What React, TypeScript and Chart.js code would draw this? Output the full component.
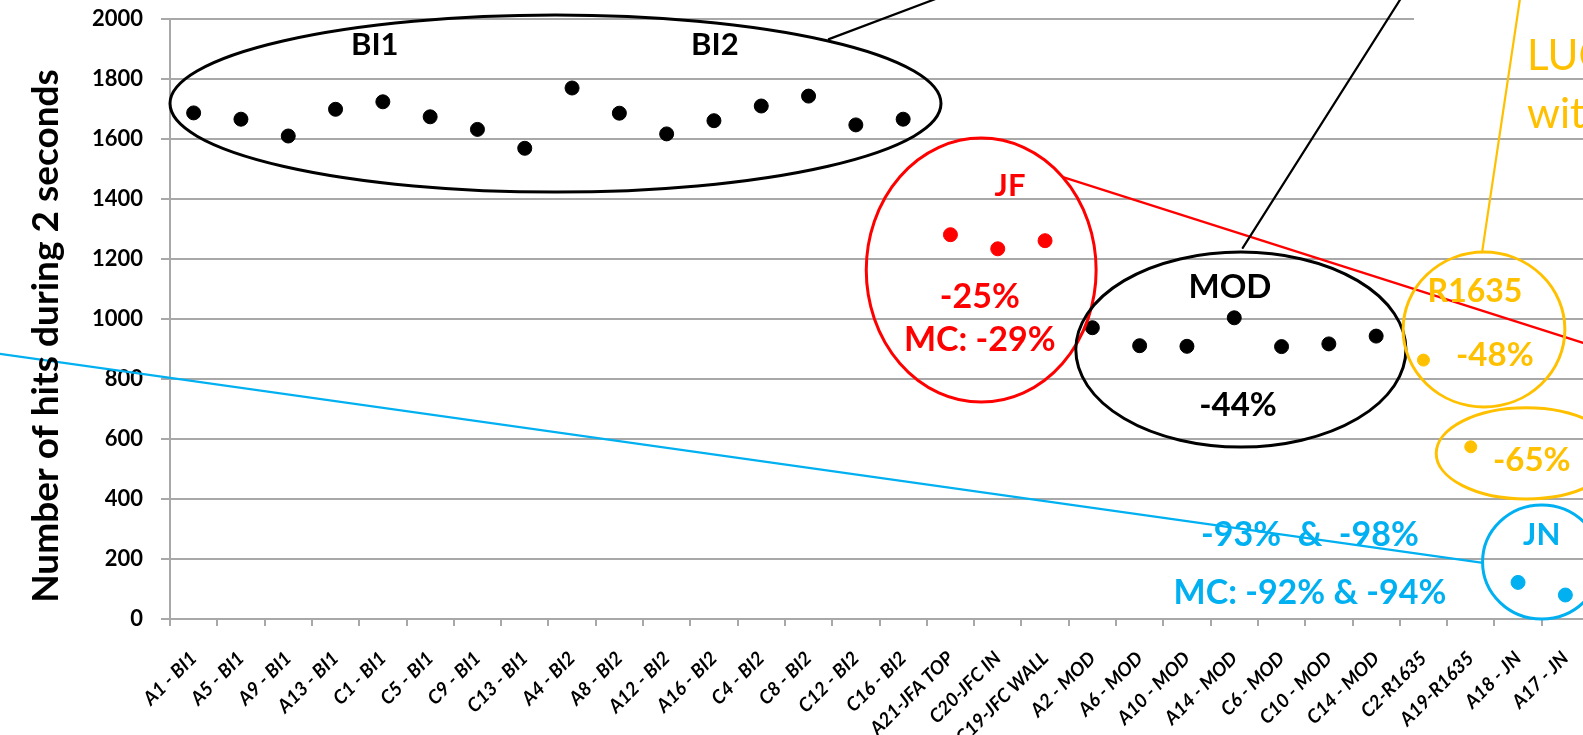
import React, { useEffect, useRef } from "react";
import { Chart, registerables } from "chart.js";

Chart.register(...registerables);

// ---- data ----
const categories = [
  "A1 - BI1", "A5 - BI1", "A9 - BI1", "A13 - BI1", "C1 - BI1", "C5 - BI1", "C9 - BI1", "C13 - BI1",
  "A4 - BI2", "A8 - BI2", "A12 - BI2", "A16 - BI2", "C4 - BI2", "C8 - BI2", "C12 - BI2", "C16 - BI2",
  "A21-JFA TOP", "C20-JFC IN", "C19-JFC WALL",
  "A2 - MOD", "A6 - MOD", "A10 - MOD", "A14 - MOD", "C6 - MOD", "C10 - MOD", "C14 - MOD",
  "C2-R1635", "A19-R1635",
  "A18 - JN", "A17 - JN",
];

const biCategories = categories.slice(0, 16);
const biValues = [1687, 1666, 1610, 1699, 1724, 1674, 1632, 1569, 1770, 1686, 1617, 1661, 1710, 1743, 1647, 1666];

const jfCategories = categories.slice(16, 19);
const jfValues = [1281, 1234, 1261];

const modCategories = categories.slice(19, 26);
const modValues = [971, 911, 909, 1004, 908, 917, 943];

const r1635Categories = categories.slice(26, 28);
const r1635Values = [863, 574];

const jnCategories = categories.slice(28, 30);
const jnValues = [122, 80];

const yMin = 0;
const yMax = 2000;
const yStep = 200;
const yTitle = "Number of hits during 2 seconds";

// ---- annotation layout (category index / value coordinates) ----
const BLACK = "#000000";
const RED = "#FF0000";
const GOLD = "#FFC000";
const BLUE = "#00B0F0";
const GRID = "#A8A8A8";

const ellipses = [
  { i: 7.65, v: 1718, rx: 8.15, ry: 295, color: BLACK },
  { i: 16.65, v: 1163, rx: 2.43, ry: 440, color: RED },
  { i: 22.14, v: 898, rx: 3.49, ry: 325, color: BLACK },
  { i: 27.28, v: 965, rx: 1.71, ry: 258, color: GOLD },
  { i: 28.17, v: 552, rx: 1.9, ry: 152, color: GOLD },
  { i: 28.5, v: 190, rx: 1.25, ry: 190, color: BLUE },
];

const connectors = [
  { i1: 13.43, v1: 1933, i2: 16.75, v2: 2130, color: BLACK },
  { i1: 18.38, v1: 1473, i2: 30.16, v2: 881, color: RED },
  { i1: 22.18, v1: 1237, i2: 25.77, v2: 2130, color: BLACK },
  { i1: 27.24, v1: 1223, i2: 28.1, v2: 2130, color: GOLD },
  { i1: 27.26, v1: 187, i2: -4.52, v2: 893, color: BLUE },
];

const notes = [
  { text: "BI1", i: 3.83, v: 1913, color: BLACK, size: 31 },
  { text: "BI2", i: 11.02, v: 1913, color: BLACK, size: 31 },
  { text: "JF", i: 17.26, v: 1443, color: RED, size: 31 },
  { text: "-25%", i: 16.62, v: 1073, color: RED, size: 34 },
  { text: "MC: -29%", i: 16.62, v: 930, color: RED, size: 34 },
  { text: "MOD", i: 21.91, v: 1107, color: BLACK, size: 33 },
  { text: "-44%", i: 22.08, v: 713, color: BLACK, size: 33 },
  { text: "R1635", i: 27.09, v: 1090, color: GOLD, size: 32 },
  { text: "-48%", i: 27.51, v: 880, color: GOLD, size: 33 },
  { text: "-65%", i: 28.29, v: 530, color: GOLD, size: 33 },
  { text: "JN", i: 28.5, v: 280, color: BLUE, size: 31 },
  { text: "-93%  &  -98%", i: 23.6, v: 280, color: BLUE, size: 34 },
  { text: "MC: -92% & -94%", i: 23.6, v: 87, color: BLUE, size: 34 },
];

const sideNotes = [
  { text: "LUC", i: 28.19, v: 1830, color: GOLD, size: 42 },
  { text: "wit", i: 28.19, v: 1637, color: GOLD, size: 42 },
];

const FONT = "Lato";

const annotationPlugin = {
  id: "annotations",
  beforeDatasetsDraw(chart: any) {
    const { ctx, scales } = chart;
    const x = scales.x;
    const y = scales.y;
    // white text-box background that hides the top gridline on the right
    const left = x.getPixelForValue(25.8);
    const top = y.getPixelForValue(2030);
    const bottom = y.getPixelForValue(1975);
    ctx.save();
    ctx.fillStyle = "#FFFFFF";
    ctx.fillRect(left, top, chart.width - left, bottom - top);
    ctx.restore();
  },
  afterDraw(chart: any) {
    const { ctx, scales } = chart;
    const x = scales.x;
    const y = scales.y;
    const px = (i: number) => x.getPixelForValue(i);
    const py = (v: number) => y.getPixelForValue(v);
    const ux = px(1) - px(0);
    const uy = py(0) - py(1);
    ctx.save();
    ctx.lineCap = "round";
    connectors.forEach((c) => {
      ctx.beginPath();
      ctx.strokeStyle = c.color;
      ctx.lineWidth = 2.2;
      ctx.moveTo(px(c.i1), py(c.v1));
      ctx.lineTo(px(c.i2), py(c.v2));
      ctx.stroke();
    });
    ellipses.forEach((e) => {
      ctx.beginPath();
      ctx.strokeStyle = e.color;
      ctx.lineWidth = 3;
      ctx.ellipse(px(e.i), py(e.v), e.rx * ux, e.ry * uy, 0, 0, Math.PI * 2);
      ctx.stroke();
    });
    notes.forEach((n) => {
      ctx.fillStyle = n.color;
      ctx.font = `bold ${n.size}px ${FONT}`;
      ctx.textAlign = "center";
      ctx.textBaseline = "middle";
      ctx.fillText(n.text, px(n.i), py(n.v));
    });
    sideNotes.forEach((n) => {
      ctx.fillStyle = n.color;
      ctx.font = `normal ${n.size}px ${FONT}`;
      ctx.textAlign = "left";
      ctx.textBaseline = "alphabetic";
      ctx.fillText(n.text, px(n.i), py(n.v));
    });
    // y-axis title
    ctx.fillStyle = BLACK;
    ctx.font = `bold 37px ${FONT}`;
    ctx.textAlign = "center";
    ctx.textBaseline = "middle";
    ctx.translate(x.left - 124, (y.top + y.bottom) / 2 + 17);
    ctx.rotate(-Math.PI / 2);
    ctx.fillText(yTitle, 0, 0);
    ctx.restore();
  },
};

const pointDataset = (cats: string[], vals: number[], color: string, radius: number) => ({
  data: cats.map((c, k) => ({ x: c, y: vals[k] })),
  showLine: false,
  pointRadius: radius,
  pointHoverRadius: radius,
  pointBorderWidth: 1,
  pointBackgroundColor: color,
  pointBorderColor: color,
  borderColor: color,
  backgroundColor: color,
});

export default function App() {
  const ref = useRef<HTMLCanvasElement>(null);
  useEffect(() => {
    const chart = new Chart(ref.current as HTMLCanvasElement, {
      type: "line",
      data: {
        labels: categories,
        datasets: [
          pointDataset(biCategories, biValues, BLACK, 7),
          pointDataset(jfCategories, jfValues, RED, 7),
          pointDataset(modCategories, modValues, BLACK, 7),
          pointDataset(r1635Categories, r1635Values, GOLD, 6),
          pointDataset(jnCategories, jnValues, BLUE, 7),
        ] as any,
      },
      options: {
        responsive: false,
        animation: false,
        devicePixelRatio: 1,
        layout: { padding: { top: 19, right: 11, left: 0, bottom: 0 } },
        plugins: { legend: { display: false }, tooltip: { enabled: false } },
        scales: {
          x: {
            type: "category",
            offset: true,
            grid: {
              display: true,
              drawOnChartArea: false,
              drawTicks: true,
              tickLength: 7,
              color: GRID,
              lineWidth: 2,
              offset: true,
            },
            border: { display: true, color: GRID, width: 2 },
            ticks: {
              autoSkip: false,
              maxRotation: 45,
              minRotation: 45,
              color: BLACK,
              padding: 21,
              font: { family: FONT, size: 19, weight: "bold", style: "italic" },
            },
            afterFit: (s: any) => {
              s.height = 116;
              s.paddingLeft = 0;
              s.paddingRight = 0;
            },
          },
          y: {
            min: yMin,
            max: yMax,
            ticks: {
              stepSize: yStep,
              color: BLACK,
              padding: 18,
              font: { family: FONT, size: 22, weight: "bold" },
              callback: (v: any) => String(v),
            },
            grid: { color: GRID, lineWidth: 2, tickLength: 9 },
            border: { display: true, color: GRID, width: 2 },
            afterFit: (s: any) => {
              s.width = 170;
              s.paddingTop = 0;
              s.paddingBottom = 0;
            },
          },
        },
      } as any,
      plugins: [annotationPlugin],
    });
    return () => chart.destroy();
  }, []);
  return (
    <div
      style={{
        position: "fixed",
        left: 0,
        top: 0,
        width: 1583,
        height: 735,
        overflow: "hidden",
        background: "#FFFFFF",
      }}
    >
      <canvas ref={ref} width={1600} height={735} style={{ display: "block", width: 1600, height: 735 }} />
    </div>
  );
}
